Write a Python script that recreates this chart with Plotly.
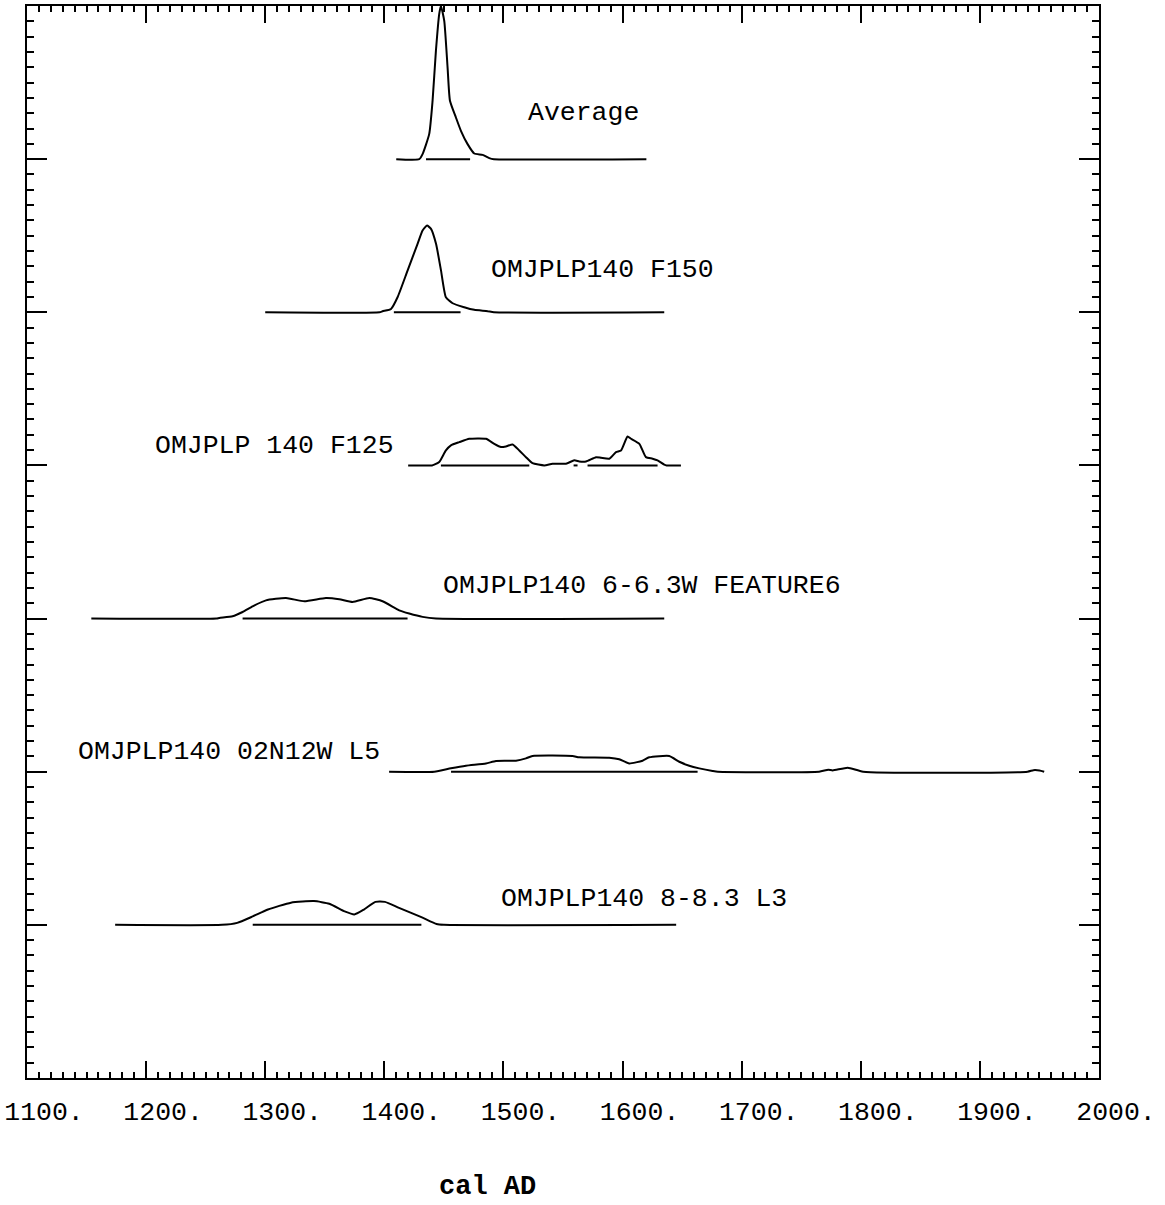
import plotly.graph_objects as go

# ---- data ----
labels = ["Average", "OMJPLP140 F150", "OMJPLP 140 F125",
          "OMJPLP140 6-6.3W FEATURE6", "OMJPLP140 02N12W L5", "OMJPLP140 8-8.3 L3"]
levels = [6, 5, 4, 3, 2, 1]

avg_years = [1410, 1429.3, 1432.1, 1437.7, 1440.5, 1443.3, 1446.1, 1447.5, 1450.3, 1453.1,
             1455.1, 1460.1, 1464.3, 1469.9, 1475.5, 1482.5, 1488.1, 1492, 1620]
avg_prob = [0, 0, 0.033, 0.165, 0.381, 0.707, 0.949, 1.0, 0.903, 0.598,
            0.381, 0.272, 0.185, 0.098, 0.037, 0.028, 0.007, 0, 0]
avg_range = [[1435, 1472]]

f150_years = [1300, 1396, 1398.5, 1405.6, 1411.1, 1419.5, 1427.9, 1432.1, 1435.8, 1439.2,
              1443.4, 1447.6, 1451.7, 1457.3, 1467.1, 1475.5, 1486.7, 1492, 1635]
f150_prob = [0, 0, 0.007, 0.022, 0.098, 0.272, 0.447, 0.534, 0.566, 0.545,
             0.447, 0.272, 0.098, 0.059, 0.033, 0.016, 0.007, 0, 0]
f150_range = [[1408, 1464]]

f125_years = [1420, 1440, 1441.9, 1446.1, 1451.7, 1455.9, 1462.9, 1471.3, 1485.3, 1492.3,
              1497.9, 1502.1, 1507.7, 1513.3, 1518.9, 1524.4, 1534.3, 1541.2, 1552.5, 1559.5,
              1563.7, 1569.3, 1577.7, 1581.9, 1588.9, 1594.5, 1598.7, 1604.2, 1607.1, 1614.1,
              1619.6, 1625.2, 1629.4, 1635.0, 1637, 1649]
f125_prob = [0, 0, 0.005, 0.022, 0.098, 0.131, 0.152, 0.174, 0.174, 0.141,
             0.120, 0.124, 0.137, 0.098, 0.054, 0.015, 0.0, 0.011, 0.011, 0.033,
             0.026, 0.026, 0.054, 0.050, 0.044, 0.087, 0.098, 0.189, 0.174, 0.141,
             0.054, 0.044, 0.033, 0.005, 0, 0]
f125_range = [[1447.5, 1521.7], [1558.9, 1562.2], [1570.6, 1629.4]]

fe6_years = [1154, 1259, 1261.4, 1272.6, 1281.0, 1289.4, 1300.6, 1317.4, 1332.8, 1351.0,
             1362.2, 1373.3, 1387.4, 1398.5, 1412.5, 1420.9, 1432.1, 1443.4, 1635]
fe6_prob = [0, 0, 0.004, 0.015, 0.043, 0.080, 0.119, 0.134, 0.113, 0.134,
            0.126, 0.108, 0.134, 0.113, 0.054, 0.033, 0.011, 0, 0]
fe6_range = [[1281, 1419.5]]

l5_years = [1404, 1441.9, 1455.9, 1468.5, 1485.3, 1493.7, 1510.5, 1518.9, 1524.4, 1558.0,
            1563.6, 1588.8, 1597.2, 1605.6, 1616.8, 1622.4, 1639.2, 1647.6, 1656.0, 1664.4,
            1675.6, 1680, 1765, 1772.7, 1776.4, 1789.1, 1802, 1940, 1945, 1950, 1954]
l5_prob = [0, 0, 0.022, 0.039, 0.054, 0.070, 0.072, 0.087, 0.103, 0.103,
           0.094, 0.091, 0.081, 0.054, 0.072, 0.094, 0.103, 0.065, 0.039, 0.022,
           0.005, 0, 0, 0.013, 0.008, 0.026, 0, 0, 0.01, 0.008, 0]
l5_range = [[1456, 1663]]

l3_years = [1174, 1263.7, 1276.5, 1289.5, 1302.3, 1321.6, 1340.9, 1353.8, 1366.7, 1374.8,
            1382.8, 1392.5, 1400.5, 1411.8, 1431.1, 1443.9, 1450, 1645]
l3_prob = [0, 0, 0.013, 0.055, 0.100, 0.145, 0.155, 0.138, 0.088, 0.068,
           0.100, 0.150, 0.150, 0.113, 0.050, 0.005, 0, 0]
l3_range = [[1289.5, 1431.1]]

x_tick_vals = [1100, 1200, 1300, 1400, 1500, 1600, 1700, 1800, 1900, 2000]
x_tick_text = ["1100.", "1200.", "1300.", "1400.", "1500.", "1600.", "1700.", "1800.", "1900.", "2000."]
x_title = "cal AD"

series_years = [avg_years, f150_years, f125_years, fe6_years, l5_years, l3_years]
series_prob = [avg_prob, f150_prob, f125_prob, fe6_prob, l5_prob, l3_prob]
series_range = [avg_range, f150_range, f125_range, fe6_range, l5_range, l3_range]

# label anchor positions (left edge year, vertical level)
label_pos = [(1519, 6.30), (1488, 5.276), (1206, 4.126), (1447.5, 3.212), (1141, 2.127), (1496, 1.167)]

FONT = "Liberation Mono, Courier New, DejaVu Sans Mono, monospace"

fig = go.Figure()
for yrs, pr, rngs, lev in zip(series_years, series_prob, series_range, levels):
    fig.add_trace(go.Scatter(x=yrs, y=[lev + p for p in pr], mode="lines",
                             line=dict(color="black", width=2, shape="spline", smoothing=0.5),
                             hoverinfo="skip", showlegend=False))
    for a, b in rngs:
        fig.add_trace(go.Scatter(x=[a, b], y=[lev, lev], mode="lines",
                                 line=dict(color="black", width=2), hoverinfo="skip",
                                 showlegend=False))

for txt, (lx, ly) in zip(labels, label_pos):
    fig.add_annotation(x=lx, y=ly, text=txt, showarrow=False, xanchor="left",
                       yanchor="middle", font=dict(family=FONT, size=26.5, color="black"))

fig.add_annotation(x=(487 - 27) / 1072.0, y=-(1187 - 1078) / 1072.0, xref="paper", yref="paper",
                   text="<b>" + x_title + "</b>", showarrow=False,
                   xanchor="center", yanchor="middle",
                   font=dict(family=FONT, size=27, color="black"))

fig.update_layout(
    width=1165, height=1205,
    margin=dict(l=27, r=66, t=6, b=127),
    paper_bgcolor="white", plot_bgcolor="white",
    showlegend=False,
    xaxis=dict(range=[1100, 2000], tickvals=x_tick_vals, ticktext=x_tick_text,
               automargin=False,
               ticks="inside", ticklen=17, tickwidth=2, tickcolor="black",
               minor=dict(dtick=10, ticks="inside", ticklen=6, tickwidth=1.5, tickcolor="black"),
               showline=True, linewidth=2, linecolor="black", mirror="ticks",
               showgrid=False, zeroline=False,
               tickfont=dict(family=FONT, size=26.5, color="black"),
               ticklabelshift=17, ticklabelstandoff=8),
    yaxis=dict(range=[0, 7], tick0=0, dtick=1, showticklabels=False, automargin=False,
               ticks="inside", ticklen=20, tickwidth=2, tickcolor="black",
               minor=dict(dtick=0.1, ticks="inside", ticklen=7, tickwidth=1.5, tickcolor="black"),
               showline=True, linewidth=2, linecolor="black", mirror="ticks",
               showgrid=False, zeroline=False),
)

fig.write_html("out.html")
